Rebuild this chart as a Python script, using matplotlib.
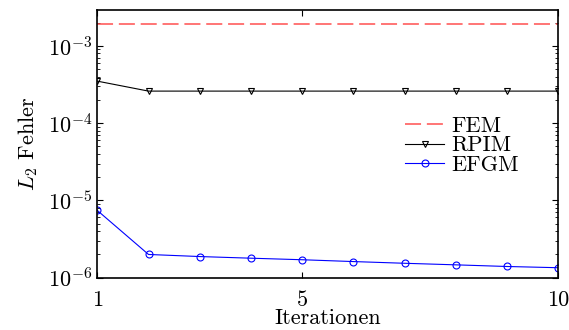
import matplotlib
matplotlib.use("Agg")
import matplotlib.pyplot as plt
import numpy as np

plt.rcParams["font.family"] = ["cmr10", "DejaVu Serif"]
plt.rcParams["mathtext.fontset"] = "cm"
plt.rcParams["axes.formatter.use_mathtext"] = True

# data
iterations = np.arange(1, 11)
fem = [1.9e-3] * 10
rpim = [3.5e-4, 2.6e-4, 2.6e-4, 2.6e-4, 2.6e-4, 2.6e-4, 2.6e-4, 2.6e-4, 2.6e-4, 2.6e-4]
efgm = [7.4e-6, 1.99e-6, 1.87e-6, 1.78e-6, 1.70e-6, 1.61e-6, 1.53e-6, 1.46e-6, 1.39e-6, 1.34e-6]
xticks = [1, 5, 10]

fig = plt.figure(figsize=(5.69, 3.30), dpi=100)
ax = fig.add_axes([0.171, 0.159, 0.81, 0.811])

ax.semilogy(iterations, fem, color="#ff5050", lw=1.1, ls=(0, (10.5, 3.8)), label="FEM")
ax.semilogy(iterations, rpim, color="k", lw=0.8, marker="v", ms=5,
            mfc="none", mew=0.8, label="RPIM")
ax.semilogy(iterations, efgm, color="b", lw=0.8, marker="o", ms=5,
            mfc="none", mew=0.8, label="EFGM")

ax.set_xlim(1, 10)
ax.set_ylim(1e-6, 2.93e-3)
ax.set_xticks(xticks)
ax.set_xticklabels([str(t) for t in xticks])
ax.tick_params(which="both", direction="in", top=True, right=True, labelsize=16)
ax.tick_params(axis="x", pad=9)
ax.tick_params(which="major", length=4)
ax.tick_params(which="minor", length=2)
for s in ax.spines.values():
    s.set_linewidth(1.2)

ax.set_xlabel("Iterationen", fontsize=16, labelpad=-1)
ax.set_ylabel("$L_2$ Fehler", fontsize=16, labelpad=6)

ax.legend(loc="upper left", bbox_to_anchor=(0.649, 0.636), frameon=False,
          fontsize=16, handlelength=1.75, handletextpad=0.3,
          labelspacing=0.0, borderaxespad=0)

fig.savefig("out.png", dpi=100)
